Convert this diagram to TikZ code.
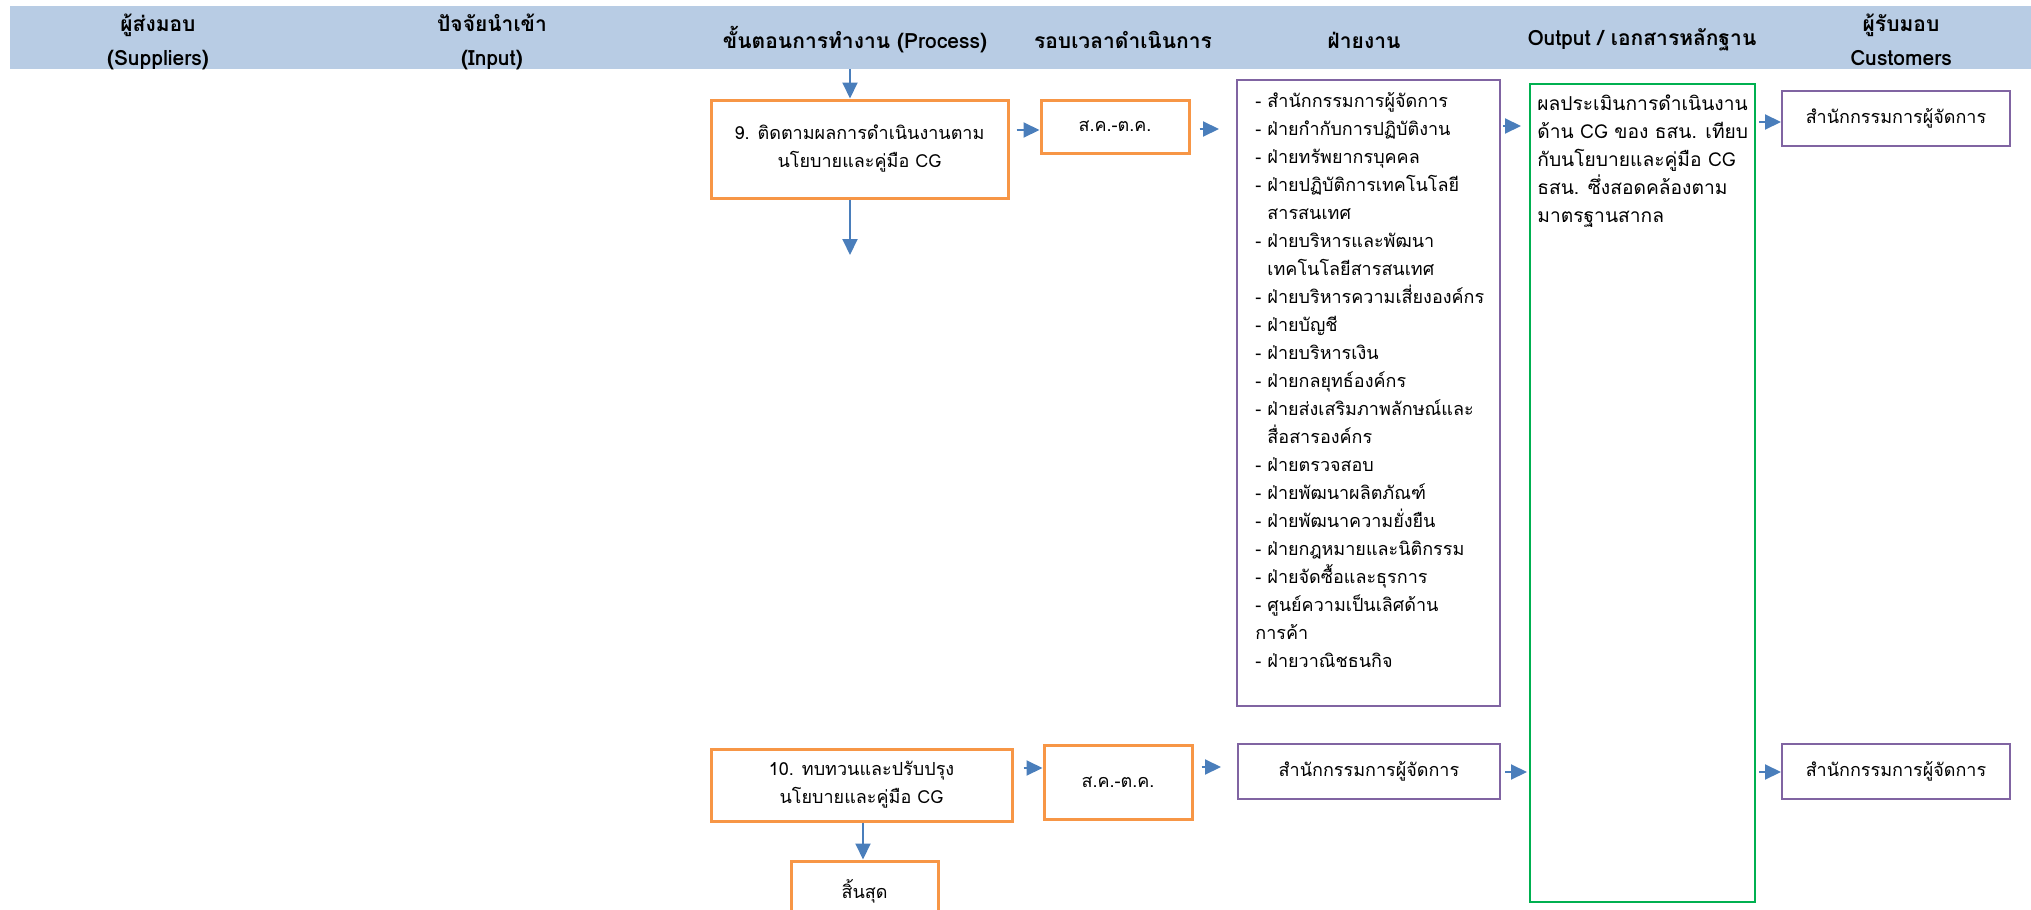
\documentclass[tikz,border=0pt]{standalone}
\usepackage{fontspec}
\setmainfont[Script=Thai]{Loma}
\usetikzlibrary{arrows.meta,calc}
\definecolor{hdr}{RGB}{184,204,228}
\definecolor{org}{RGB}{247,150,70}
\definecolor{pur}{RGB}{128,100,162}
\definecolor{grn}{RGB}{0,176,80}
\definecolor{blu}{RGB}{74,126,187}
\begin{document}
\begin{tikzpicture}[x=0.5pt,y=-0.5pt,
  txt/.style={font=\fontsize{9}{14}\selectfont},
  gtxt/.style={font=\fontsize{9.6}{14}\selectfont},
  hd/.style={font=\fontsize{10.5}{17}\selectfont\bfseries,align=center,inner sep=0pt},
  obox/.style={draw=org,line width=1.5pt,align=center,inner sep=0pt,txt},
  pbox/.style={draw=pur,line width=1pt,align=center,inner sep=0pt,txt},
  gbox/.style={draw=grn,line width=1pt,inner sep=0pt},
  arr/.style={draw=blu,line width=1pt,-{Triangle[length=8pt,width=7.5pt]}}]
\path[use as bounding box] (0,0) rectangle (2031,910);
\clip (0,0) rectangle (2031,910);
% header band
\fill[hdr] (10,6) rectangle (2031,69);
\node[hd] (h1) at (158,42) {ผู้ส่งมอบ\\(Suppliers)};
\node[hd] (h2) at (492,42) {ปัจจัยนำเข้า\\(Input)};
\node[hd] (h3) at (855,40) {ขั้นตอนการทำงาน (Process)};
\node[hd] (h4) at (1123,40) {รอบเวลาดำเนินการ};
\node[hd] (h5) at (1364,40) {ฝ่ายงาน};
\node[hd] (h6) at (1642,40) {Output / เอกสารหลักฐาน};
\node[hd] (h7) at (1901,40) {ผู้รับมอบ\\Customers};
% row 1
\node[obox,minimum width=148.5pt,minimum height=49pt] (b9) at (859.5,149) {9. ติดตามผลการดำเนินงานตาม\\นโยบายและคู่มือ CG};
\node[obox,minimum width=74pt,minimum height=26.5pt] (s1) at (1115,126.5) {ส.ค.-ต.ค.};
\node[pbox,minimum width=131.5pt,minimum height=313pt] (d1) at (1368.5,393) {};
\node[txt,anchor=north west,align=left,inner sep=0pt] (d1t) at (1255,92) {%
- สำนักกรรมการผู้จัดการ\\
- ฝ่ายกำกับการปฏิบัติงาน\\
- ฝ่ายทรัพยากรบุคคล\\
- ฝ่ายปฏิบัติการเทคโนโลยี\\
\phantom{- }สารสนเทศ\\
- ฝ่ายบริหารและพัฒนา\\
\phantom{- }เทคโนโลยีสารสนเทศ\\
- ฝ่ายบริหารความเสี่ยงองค์กร\\
- ฝ่ายบัญชี\\
- ฝ่ายบริหารเงิน\\
- ฝ่ายกลยุทธ์องค์กร\\
- ฝ่ายส่งเสริมภาพลักษณ์และ\\
\phantom{- }สื่อสารองค์กร\\
- ฝ่ายตรวจสอบ\\
- ฝ่ายพัฒนาผลิตภัณฑ์\\
- ฝ่ายพัฒนาความยั่งยืน\\
- ฝ่ายกฎหมายและนิติกรรม\\
- ฝ่ายจัดซื้อและธุรการ\\
- ศูนย์ความเป็นเลิศด้าน\\
การค้า\\
- ฝ่ายวาณิชธนกิจ};
\node[gbox,minimum width=112.5pt,minimum height=409pt] (out) at (1642.5,493) {};
\node[gtxt,anchor=north west,align=left,inner sep=0pt] (outt) at (1537,94) {%
ผลประเมินการดำเนินงาน\\
ด้าน CG ของ ธสน. เทียบ\\
กับนโยบายและคู่มือ CG\\
ธสน. ซึ่งสอดคล้องตาม\\
มาตรฐานสากล};
\node[pbox,minimum width=114pt,minimum height=27.5pt] (c1) at (1896,118.5) {สำนักกรรมการผู้จัดการ};
% row 2
\node[obox,minimum width=150.5pt,minimum height=36pt] (b10) at (861.5,785) {10. ทบทวนและปรับปรุง\\นโยบายและคู่มือ CG};
\node[obox,minimum width=74pt,minimum height=37pt] (s2) at (1118,782) {ส.ค.-ต.ค.};
\node[pbox,minimum width=131pt,minimum height=27.5pt] (d2) at (1369,771.5) {สำนักกรรมการผู้จัดการ};
\node[pbox,minimum width=114pt,minimum height=27.5pt] (c2) at (1896,771.5) {สำนักกรรมการผู้จัดการ};
\node[obox,minimum width=73.5pt,minimum height=30pt] (end) at (864.5,891) {สิ้นสุด};
% connectors
\coordinate (in9) at (850,69);
\coordinate (out9) at (850,255);
\draw[arr] (in9) -- (in9 |- b9.north);
\draw[arr] (in9 |- b9.south) -- (out9);
\draw[arr,shorten <=3.5pt] (b9.east |- 0,130) -- (s1.west |- 0,130);
\draw[arr,shorten <=4.5pt,shorten >=8.5pt] (s1.east |- 0,129) -- (d1.west |- 0,129);
\draw[arr,shorten <=1pt,shorten >=4pt] (d1.east |- 0,126) -- (out.west |- 0,126);
\draw[arr,shorten <=1.5pt] (out.east |- 0,122) -- (c1.west |- 0,122);
\draw[arr,shorten <=5pt] (b10.east |- 0,768) -- (s2.west |- 0,768);
\draw[arr,shorten <=4pt,shorten >=8pt] (s2.east |- 0,767) -- (d2.west |- 0,767);
\draw[arr,shorten <=2pt,shorten >=1pt] (d2.east |- 0,772) -- (out.west |- 0,772);
\draw[arr,shorten <=1.5pt] (out.east |- 0,772) -- (c2.west |- 0,772);
\draw[arr] (863,0 |- b10.south) -- (end.north -| 863,0);
\end{tikzpicture}
\end{document}
